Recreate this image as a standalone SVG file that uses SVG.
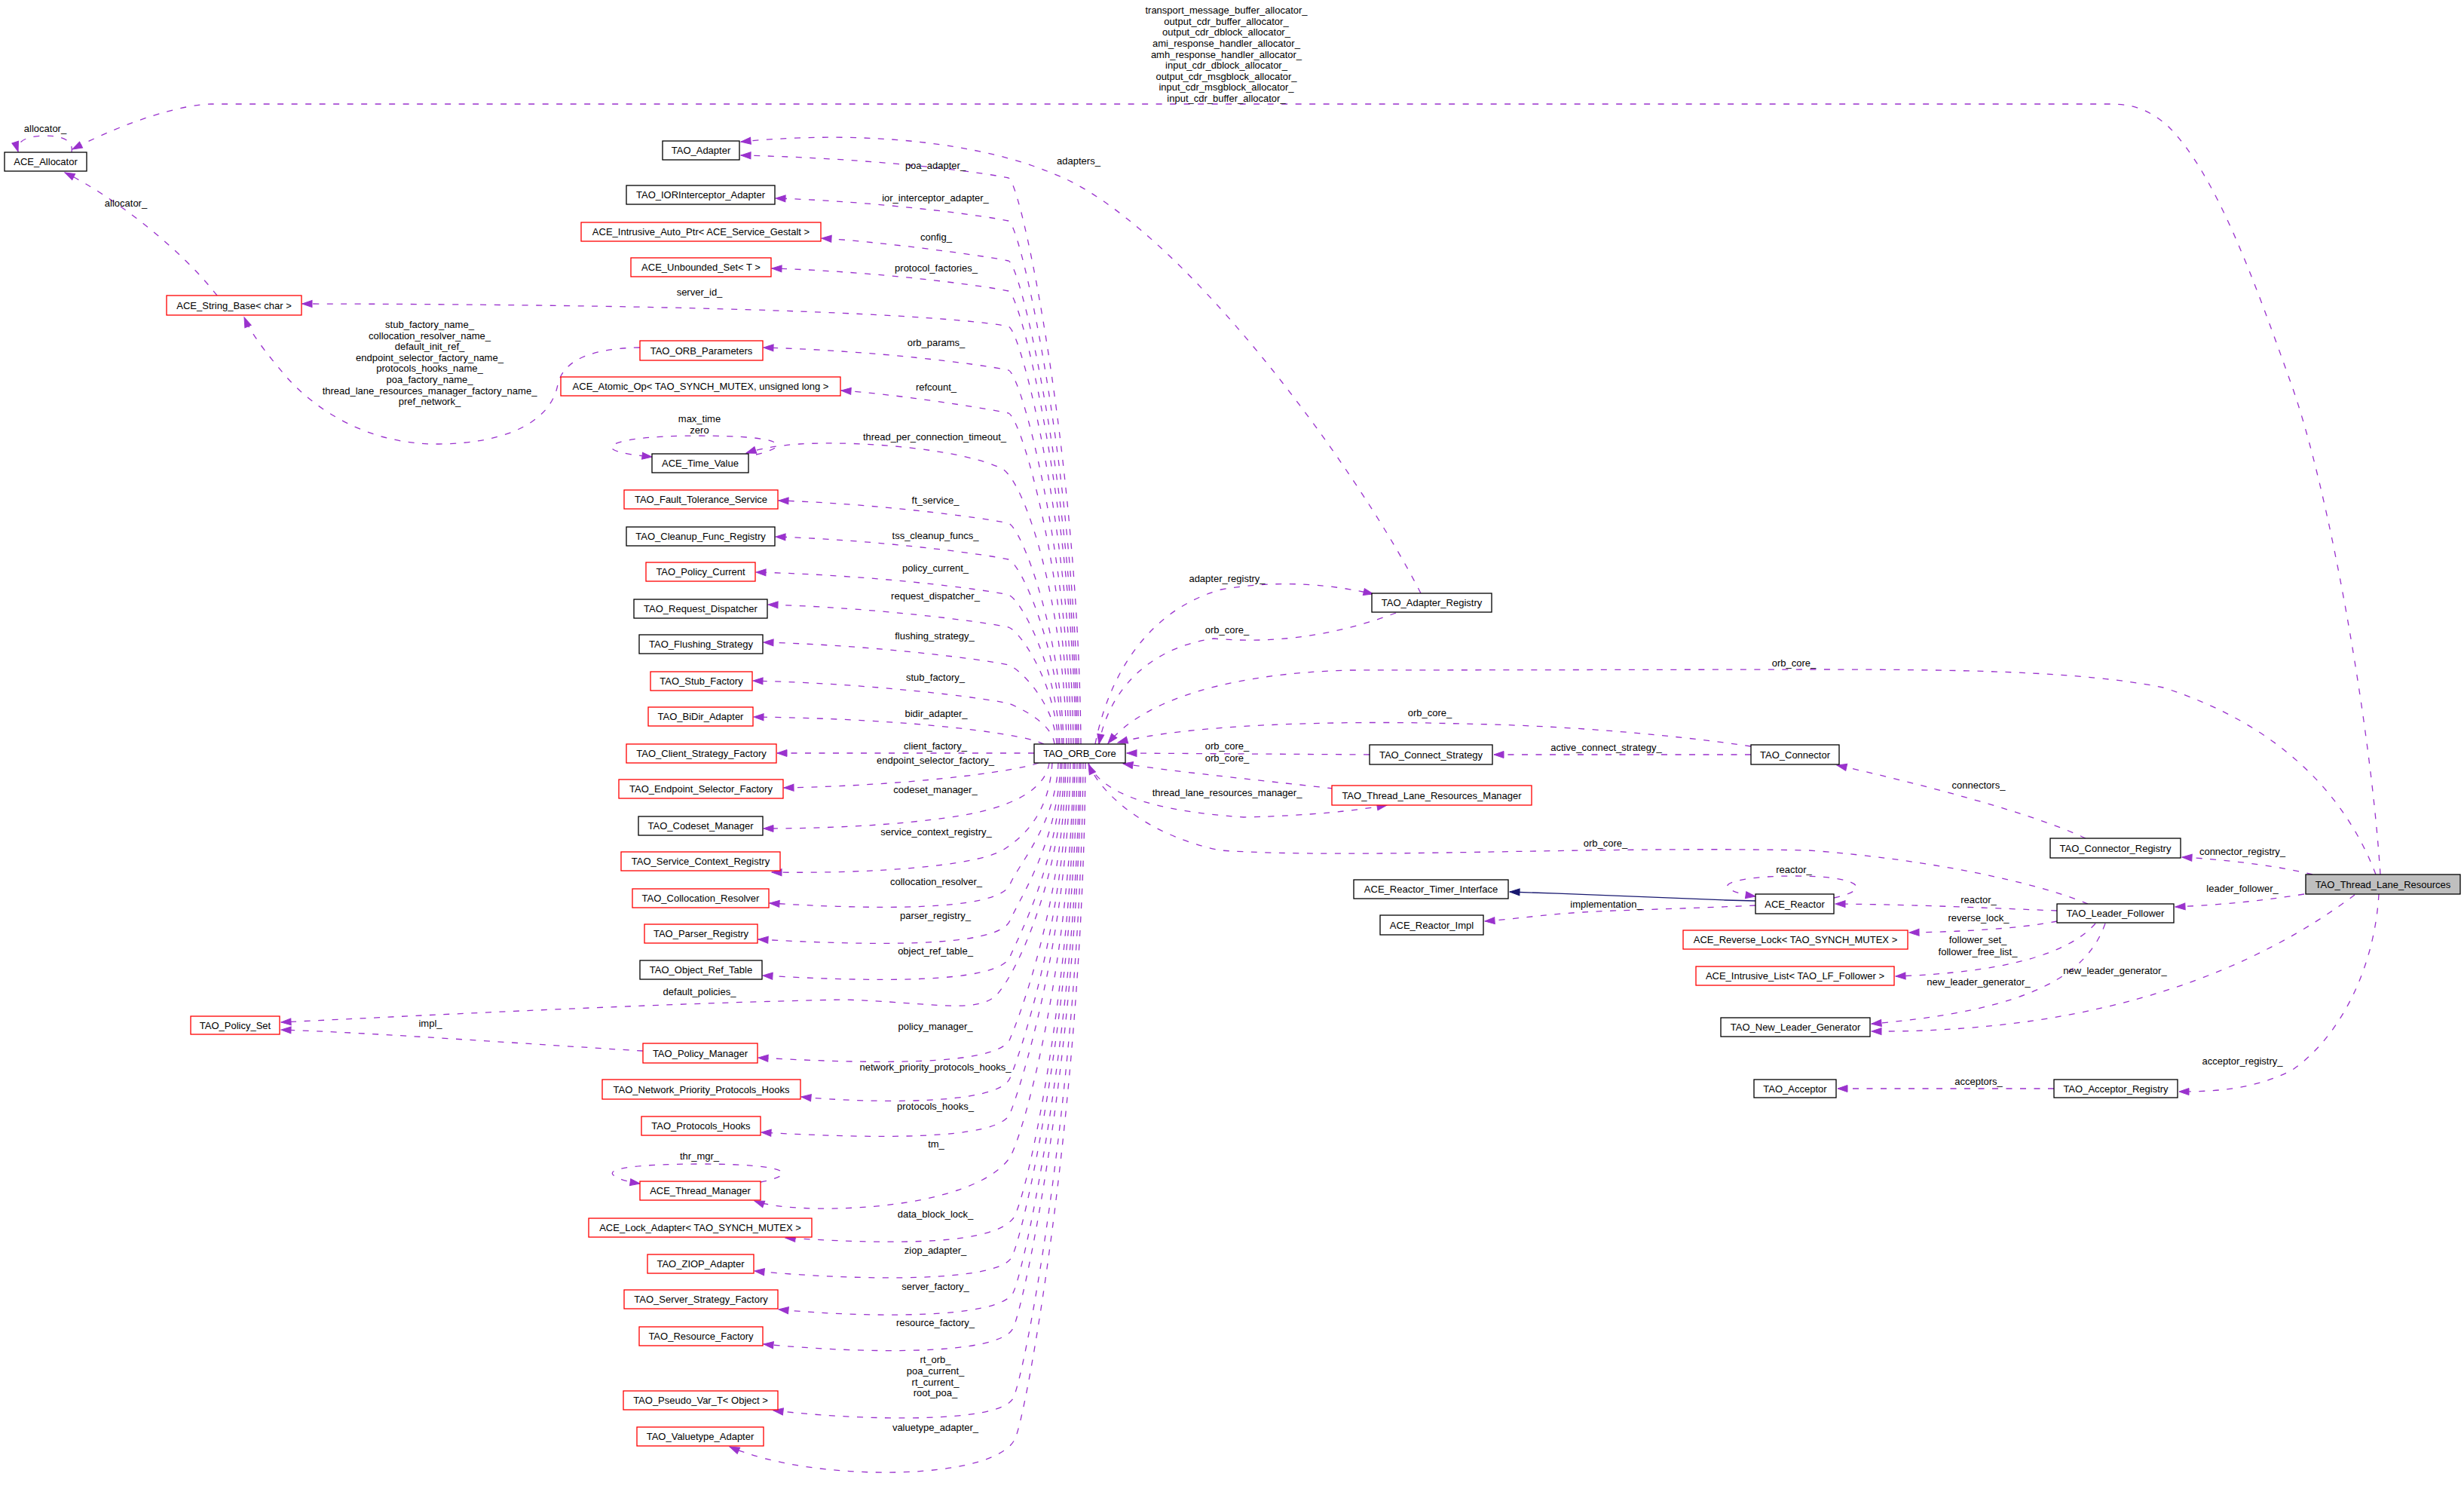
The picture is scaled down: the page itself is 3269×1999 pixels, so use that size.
<svg xmlns="http://www.w3.org/2000/svg" width="3269" height="1999" viewBox="0 0 3269 1999">
<defs>
<style>
.nb{fill:#fff;stroke:#000;stroke-width:1.3}
.nr{fill:#fff;stroke:#f00;stroke-width:1.3}
.ng{fill:#bfbfbf;stroke:#000;stroke-width:1.3}
text{font-family:'Liberation Sans',Arial,sans-serif;font-size:13px;fill:#000;text-anchor:middle}
.e{fill:none;stroke:#9a32cd;stroke-width:1.3;stroke-dasharray:8,10.5;marker-end:url(#ap)}
.i{fill:none;stroke:#191970;stroke-width:1.3;marker-end:url(#an)}
</style>
<marker id="ap" markerUnits="userSpaceOnUse" markerWidth="16" markerHeight="12" refX="13" refY="4.5" orient="auto" overflow="visible"><path d="M0,0 L13,4.5 L0,9 z" fill="#9a32cd" stroke="#9a32cd" stroke-width="1"/></marker>
<marker id="an" markerUnits="userSpaceOnUse" markerWidth="16" markerHeight="12" refX="13" refY="4.5" orient="auto" overflow="visible"><path d="M0,0 L13,4.5 L0,9 z" fill="#191970" stroke="#191970" stroke-width="1"/></marker>
</defs>
<rect width="3269" height="1999" fill="#fff"/>
<g id="connectors">
<path class="e" d="M3158,1160 C3145,960 3090,650 3040,510 C2990,370 2940,230 2875,166 C2850,145 2830,138 2800,138 L280,138 C240,139 170,160 96,198"/>
<path class="e" d="M95,202 C98,186 82,180 60,180 C36,180 20,188 24,201"/>
<path class="e" d="M288,392 C240,330 150,260 86,229"/>
<path class="e" d="M849,461 C790,462 748,475 740,510 C732,555 680,588 582,589 C490,590 420,545 380,500 C350,465 332,440 324,421"/>
<path class="e" d="M1885,787 C1800,620 1560,290 1394,229 C1300,190 1150,172 983,188"/>
<path class="e" d="M1434,987 C1431,612 1356,243 1338,236 C1300,228 1160,210 983,206"/>
<path class="e" d="M1431,987 C1428,640 1356,300 1338,293 C1300,285 1160,267 1029,263"/>
<path class="e" d="M1429,987 C1426,667 1356,353 1338,346 C1300,338 1160,320 1090,316"/>
<path class="e" d="M1427,987 C1424,687 1356,393 1338,386 C1300,378 1160,360 1024,356"/>
<path class="e" d="M1424,987 C1421,710 1356,440 1338,433 C1300,425 1100,404 401,403"/>
<path class="e" d="M1421,987 C1418,739 1356,498 1338,491 C1300,483 1160,465 1013,461"/>
<path class="e" d="M1418,987 C1415,768 1356,555 1338,548 C1300,540 1180,522 1116,518"/>
<path class="e" d="M1415,987 C1412,800 1360,640 1330,622 C1280,597 1150,584 1060,589 C1030,591 1005,596 990,601"/>
<path class="e" d="M1003,603 C1050,592 1045,578 926,578 C830,578 800,590 815,597 C825,602 845,604 865,606"/>
<path class="e" d="M1411,987 C1408,841 1356,701 1338,694 C1300,686 1160,668 1033,664"/>
<path class="e" d="M1409,987 C1406,865 1356,749 1338,742 C1300,734 1160,716 1029,712"/>
<path class="e" d="M1406,987 C1403,888 1356,796 1338,789 C1300,781 1160,763 1003,759"/>
<path class="e" d="M1404,987 C1401,910 1356,839 1338,832 C1300,824 1160,806 1019,802"/>
<path class="e" d="M1402,987 C1399,935 1356,889 1338,882 C1300,874 1160,856 1013,852"/>
<path class="e" d="M1399,987 C1396,960 1356,940 1338,933 C1300,925 1160,907 999,903"/>
<path class="e" d="M1385,987 C1370,980 1345,976 1320,972 C1250,962 1150,953 1000,951"/>
<path class="e" d="M1372,999 L1031,999"/>
<path class="e" d="M1378,1012 C1340,1025 1200,1042 1040,1045"/>
<path class="e" d="M1392,1012 C1388,1042 1355,1064 1300,1077 C1230,1092 1120,1099 1013,1099"/>
<path class="e" d="M1396,1012 C1393,1060 1375,1100 1330,1128 C1290,1150 1150,1159 1024,1157"/>
<path class="e" d="M1404,1012 C1401,1093 1352,1145 1340,1173 C1325,1210 1150,1206 1021,1198"/>
<path class="e" d="M1407,1012 C1404,1117 1352,1193 1340,1221 C1325,1258 1150,1254 1006,1246"/>
<path class="e" d="M1409,1012 C1406,1141 1352,1241 1340,1269 C1325,1306 1150,1302 1012,1294"/>
<path class="e" d="M1412,1012 C1409,1160 1350,1290 1322,1320 C1295,1345 1240,1330 1120,1326 C900,1330 600,1345 373,1356"/>
<path class="e" d="M853,1394 C700,1385 500,1370 373,1366"/>
<path class="e" d="M1414,1012 C1411,1195 1352,1350 1340,1378 C1325,1415 1150,1411 1006,1403"/>
<path class="e" d="M1417,1012 C1414,1221 1352,1402 1340,1430 C1325,1467 1150,1463 1063,1455"/>
<path class="e" d="M1420,1012 C1417,1245 1352,1449 1340,1477 C1325,1514 1150,1510 1010,1502"/>
<path class="e" d="M1424,1012 C1421,1270 1360,1500 1340,1535 C1310,1580 1200,1605 1080,1603 C1040,1602 1015,1598 1001,1593"/>
<path class="e" d="M1009,1568 C1060,1558 1050,1544 928,1544 C830,1544 805,1552 814,1559 C822,1565 835,1568 849,1570"/>
<path class="e" d="M1426,1012 C1423,1300 1365,1580 1345,1615 C1320,1650 1200,1652 1042,1642"/>
<path class="e" d="M1429,1012 C1426,1330 1358,1640 1342,1668 C1325,1700 1150,1700 1001,1686"/>
<path class="e" d="M1432,1012 C1429,1360 1358,1690 1344,1715 C1325,1750 1150,1748 1033,1737"/>
<path class="e" d="M1434,1012 C1431,1390 1358,1735 1344,1762 C1325,1798 1150,1796 1013,1783"/>
<path class="e" d="M1437,1012 C1434,1430 1360,1825 1344,1855 C1325,1888 1150,1885 1026,1871"/>
<path class="e" d="M1440,1012 C1437,1450 1365,1860 1348,1905 C1330,1965 1080,1968 968,1919"/>
<path class="e" d="M1453,987 C1470,900 1520,810 1620,782 C1700,768 1770,776 1822,788"/>
<path class="e" d="M1852,813 C1780,840 1700,855 1610,847 C1520,860 1470,920 1458,987"/>
<path class="e" d="M3152,1160 C3110,1050 3020,960 2870,912 C2760,890 2600,888 2400,888 L1790,889 C1640,893 1520,925 1470,986"/>
<path class="e" d="M2323,990 C2200,972 2060,962 1938,960 C1760,955 1570,962 1483,985"/>
<path class="e" d="M2323,1001 L1982,1001"/>
<path class="e" d="M1817,1001 L1495,999"/>
<path class="e" d="M1769,1046 C1700,1038 1560,1024 1490,1013"/>
<path class="e" d="M1444,1012 C1460,1050 1520,1075 1650,1084 C1740,1082 1800,1075 1840,1068"/>
<path class="e" d="M2770,1199 C2700,1170 2560,1140 2400,1128 C2100,1122 1800,1140 1619,1128 C1530,1110 1465,1060 1444,1014"/>
<path class="e" d="M2729,1208 C2650,1205 2550,1200 2435,1199"/>
<path class="e" d="M2729,1222 C2680,1232 2600,1236 2533,1237"/>
<path class="e" d="M2780,1225 C2745,1265 2660,1290 2515,1295"/>
<path class="e" d="M2793,1225 C2770,1290 2700,1340 2483,1358"/>
<path class="e" d="M3124,1187 C3000,1280 2800,1370 2483,1368"/>
<path class="e" d="M3068,1160 C3020,1148 2950,1140 2895,1137"/>
<path class="e" d="M3057,1186 C3000,1195 2950,1200 2886,1203"/>
<path class="e" d="M3156,1186 C3150,1290 3100,1380 3040,1420 C2990,1445 2940,1448 2891,1448"/>
<path class="e" d="M2725,1444 L2438,1444"/>
<path class="e" d="M2767,1112 C2700,1080 2550,1040 2437,1015"/>
<path class="e" d="M2433,1191 C2485,1180 2470,1162 2380,1162 C2310,1162 2285,1172 2293,1178 C2300,1184 2315,1187 2329,1189"/>
<path class="e" d="M2329,1201 C2250,1205 2150,1207 2100,1210 C2050,1213 2000,1220 1970,1222"/>
<path class="i" d="M2329,1195 L2289,1194 C2200,1191 2100,1186 2003,1183"/>
</g>
<g id="edge-labels">
<text x="1627" y="18">transport_message_buffer_allocator_</text>
<text x="1627" y="33">output_cdr_buffer_allocator_</text>
<text x="1627" y="47">output_cdr_dblock_allocator_</text>
<text x="1627" y="62">ami_response_handler_allocator_</text>
<text x="1627" y="77">amh_response_handler_allocator_</text>
<text x="1627" y="91">input_cdr_dblock_allocator_</text>
<text x="1627" y="106">output_cdr_msgblock_allocator_</text>
<text x="1627" y="120">input_cdr_msgblock_allocator_</text>
<text x="1627" y="135">input_cdr_buffer_allocator_</text>
<text x="60" y="175">allocator_</text>
<text x="167" y="274">allocator_</text>
<text x="1431" y="218">adapters_</text>
<text x="1241" y="224">poa_adapter_</text>
<text x="1241" y="267">ior_interceptor_adapter_</text>
<text x="1242" y="319">config_</text>
<text x="1242" y="360">protocol_factories_</text>
<text x="928" y="392">server_id_</text>
<text x="570" y="435">stub_factory_name_</text>
<text x="570" y="450">collocation_resolver_name_</text>
<text x="570" y="464">default_init_ref_</text>
<text x="570" y="479">endpoint_selector_factory_name_</text>
<text x="570" y="493">protocols_hooks_name_</text>
<text x="570" y="508">poa_factory_name_</text>
<text x="570" y="523">thread_lane_resources_manager_factory_name_</text>
<text x="570" y="537">pref_network_</text>
<text x="1242" y="459">orb_params_</text>
<text x="1242" y="518">refcount_</text>
<text x="928" y="560">max_time</text>
<text x="928" y="575">zero</text>
<text x="1240" y="584">thread_per_connection_timeout_</text>
<text x="1241" y="668">ft_service_</text>
<text x="1241" y="715">tss_cleanup_funcs_</text>
<text x="1241" y="758">policy_current_</text>
<text x="1241" y="795">request_dispatcher_</text>
<text x="1240" y="848">flushing_strategy_</text>
<text x="1241" y="903">stub_factory_</text>
<text x="1242" y="951">bidir_adapter_</text>
<text x="1241" y="994">client_factory_</text>
<text x="1241" y="1013">endpoint_selector_factory_</text>
<text x="1241" y="1052">codeset_manager_</text>
<text x="1242" y="1108">service_context_registry_</text>
<text x="1242" y="1174">collocation_resolver_</text>
<text x="1241" y="1219">parser_registry_</text>
<text x="1241" y="1266">object_ref_table_</text>
<text x="928" y="1320">default_policies_</text>
<text x="571" y="1362">impl_</text>
<text x="1241" y="1366">policy_manager_</text>
<text x="1241" y="1420">network_priority_protocols_hooks_</text>
<text x="1241" y="1472">protocols_hooks_</text>
<text x="1242" y="1522">tm_</text>
<text x="928" y="1538">thr_mgr_</text>
<text x="1241" y="1615">data_block_lock_</text>
<text x="1241" y="1663">ziop_adapter_</text>
<text x="1241" y="1711">server_factory_</text>
<text x="1241" y="1759">resource_factory_</text>
<text x="1241" y="1808">rt_orb_</text>
<text x="1241" y="1823">poa_current_</text>
<text x="1241" y="1838">rt_current_</text>
<text x="1241" y="1852">root_poa_</text>
<text x="1241" y="1898">valuetype_adapter_</text>
<text x="1628" y="772">adapter_registry_</text>
<text x="1628" y="840">orb_core_</text>
<text x="2380" y="884">orb_core_</text>
<text x="1897" y="950">orb_core_</text>
<text x="2131" y="996">active_connect_strategy_</text>
<text x="1628" y="994">orb_core_</text>
<text x="1628" y="1010">orb_core_</text>
<text x="1628" y="1056">thread_lane_resources_manager_</text>
<text x="2130" y="1123">orb_core_</text>
<text x="2131" y="1204">implementation_</text>
<text x="2625" y="1046">connectors_</text>
<text x="2975" y="1134">connector_registry_</text>
<text x="2380" y="1158">reactor_</text>
<text x="2975" y="1183">leader_follower_</text>
<text x="2625" y="1198">reactor_</text>
<text x="2625" y="1222">reverse_lock_</text>
<text x="2624" y="1251">follower_set_</text>
<text x="2624" y="1267">follower_free_list_</text>
<text x="2625" y="1307">new_leader_generator_</text>
<text x="2806" y="1292">new_leader_generator_</text>
<text x="2975" y="1412">acceptor_registry_</text>
<text x="2625" y="1439">acceptors_</text>
</g>
<g id="n_alloc"><rect class="nb" x="6" y="202" width="109" height="25"/><text x="60.5" y="219">ACE_Allocator</text></g>
<g id="n_sb"><rect class="nr" x="221" y="392" width="179" height="26"/><text x="310.5" y="409.5">ACE_String_Base&lt; char &gt;</text></g>
<g id="n_pset"><rect class="nr" x="253" y="1348" width="118" height="24"/><text x="312" y="1364.5">TAO_Policy_Set</text></g>
<g id="n_adapter"><rect class="nb" x="879" y="187" width="102" height="25"/><text x="930" y="204">TAO_Adapter</text></g>
<g id="n_ior"><rect class="nb" x="831" y="246" width="197" height="25"/><text x="929.5" y="263">TAO_IORInterceptor_Adapter</text></g>
<g id="n_iap"><rect class="nr" x="771" y="295" width="318" height="25"/><text x="930" y="312">ACE_Intrusive_Auto_Ptr&lt; ACE_Service_Gestalt &gt;</text></g>
<g id="n_uset"><rect class="nr" x="837" y="342" width="186" height="25"/><text x="930" y="359">ACE_Unbounded_Set&lt; T &gt;</text></g>
<g id="n_orbp"><rect class="nr" x="849" y="452" width="163" height="26"/><text x="930.5" y="469.5">TAO_ORB_Parameters</text></g>
<g id="n_atomic"><rect class="nr" x="744" y="500" width="371" height="25"/><text x="929.5" y="517">ACE_Atomic_Op&lt; TAO_SYNCH_MUTEX, unsigned long &gt;</text></g>
<g id="n_tv"><rect class="nb" x="865" y="602" width="128" height="25"/><text x="929" y="619">ACE_Time_Value</text></g>
<g id="n_ft"><rect class="nr" x="828" y="650" width="204" height="25"/><text x="930" y="667">TAO_Fault_Tolerance_Service</text></g>
<g id="n_cleanup"><rect class="nb" x="831" y="699" width="197" height="25"/><text x="929.5" y="716">TAO_Cleanup_Func_Registry</text></g>
<g id="n_pcur"><rect class="nr" x="857" y="746" width="145" height="25"/><text x="929.5" y="763">TAO_Policy_Current</text></g>
<g id="n_rd"><rect class="nb" x="841" y="795" width="177" height="25"/><text x="929.5" y="812">TAO_Request_Dispatcher</text></g>
<g id="n_flush"><rect class="nb" x="848" y="842" width="164" height="25"/><text x="930" y="859">TAO_Flushing_Strategy</text></g>
<g id="n_stub"><rect class="nr" x="863" y="891" width="135" height="25"/><text x="930.5" y="908">TAO_Stub_Factory</text></g>
<g id="n_bidir"><rect class="nr" x="860" y="938" width="139" height="25"/><text x="929.5" y="955">TAO_BiDir_Adapter</text></g>
<g id="n_csf"><rect class="nr" x="831" y="987" width="199" height="25"/><text x="930.5" y="1004">TAO_Client_Strategy_Factory</text></g>
<g id="n_esf"><rect class="nr" x="821" y="1034" width="218" height="25"/><text x="930" y="1051">TAO_Endpoint_Selector_Factory</text></g>
<g id="n_codeset"><rect class="nb" x="847" y="1083" width="165" height="25"/><text x="929.5" y="1100">TAO_Codeset_Manager</text></g>
<g id="n_scr"><rect class="nr" x="824" y="1130" width="211" height="25"/><text x="929.5" y="1147">TAO_Service_Context_Registry</text></g>
<g id="n_coll"><rect class="nr" x="839" y="1179" width="181" height="25"/><text x="929.5" y="1196">TAO_Collocation_Resolver</text></g>
<g id="n_parser"><rect class="nr" x="855" y="1226" width="150" height="25"/><text x="930" y="1243">TAO_Parser_Registry</text></g>
<g id="n_ort"><rect class="nb" x="849" y="1274" width="162" height="25"/><text x="930" y="1291">TAO_Object_Ref_Table</text></g>
<g id="n_pm"><rect class="nr" x="853" y="1384" width="152" height="26"/><text x="929" y="1401.5">TAO_Policy_Manager</text></g>
<g id="n_npph"><rect class="nr" x="799" y="1432" width="263" height="26"/><text x="930.5" y="1449.5">TAO_Network_Priority_Protocols_Hooks</text></g>
<g id="n_ph"><rect class="nr" x="851" y="1481" width="158" height="25"/><text x="930" y="1498">TAO_Protocols_Hooks</text></g>
<g id="n_tm"><rect class="nr" x="849" y="1567" width="160" height="25"/><text x="929" y="1584">ACE_Thread_Manager</text></g>
<g id="n_lock"><rect class="nr" x="781" y="1616" width="296" height="25"/><text x="929" y="1633">ACE_Lock_Adapter&lt; TAO_SYNCH_MUTEX &gt;</text></g>
<g id="n_ziop"><rect class="nr" x="859" y="1664" width="141" height="25"/><text x="929.5" y="1681">TAO_ZIOP_Adapter</text></g>
<g id="n_ssf"><rect class="nr" x="828" y="1711" width="204" height="25"/><text x="930" y="1728">TAO_Server_Strategy_Factory</text></g>
<g id="n_rf"><rect class="nr" x="848" y="1760" width="164" height="25"/><text x="930" y="1777">TAO_Resource_Factory</text></g>
<g id="n_pv"><rect class="nr" x="827" y="1845" width="205" height="25"/><text x="929.5" y="1862">TAO_Pseudo_Var_T&lt; Object &gt;</text></g>
<g id="n_vt"><rect class="nr" x="845" y="1893" width="168" height="25"/><text x="929" y="1910">TAO_Valuetype_Adapter</text></g>
<g id="n_orb"><rect class="nb" x="1372" y="987" width="121" height="25"/><text x="1432.5" y="1004">TAO_ORB_Core</text></g>
<g id="n_ar"><rect class="nb" x="1820" y="787" width="159" height="25"/><text x="1899.5" y="804">TAO_Adapter_Registry</text></g>
<g id="n_cs"><rect class="nb" x="1817" y="988" width="163" height="26"/><text x="1898.5" y="1005.5">TAO_Connect_Strategy</text></g>
<g id="n_tlrm"><rect class="nr" x="1767" y="1042" width="265" height="26"/><text x="1899.5" y="1059.5">TAO_Thread_Lane_Resources_Manager</text></g>
<g id="n_rti"><rect class="nb" x="1796" y="1167" width="205" height="25"/><text x="1898.5" y="1184">ACE_Reactor_Timer_Interface</text></g>
<g id="n_rimpl"><rect class="nb" x="1831" y="1214" width="137" height="26"/><text x="1899.5" y="1231.5">ACE_Reactor_Impl</text></g>
<g id="n_conn"><rect class="nb" x="2323" y="988" width="117" height="26"/><text x="2381.5" y="1005.5">TAO_Connector</text></g>
<g id="n_cr"><rect class="nb" x="2720" y="1112" width="173" height="26"/><text x="2806.5" y="1129.5">TAO_Connector_Registry</text></g>
<g id="n_tlr"><rect class="ng" x="3059" y="1160" width="205" height="26"/><text x="3161.5" y="1177.5">TAO_Thread_Lane_Resources</text></g>
<g id="n_reactor"><rect class="nb" x="2329" y="1186" width="104" height="26"/><text x="2381" y="1203.5">ACE_Reactor</text></g>
<g id="n_lf"><rect class="nb" x="2729" y="1199" width="155" height="25"/><text x="2806.5" y="1216">TAO_Leader_Follower</text></g>
<g id="n_rlock"><rect class="nr" x="2233" y="1234" width="298" height="25"/><text x="2382" y="1251">ACE_Reverse_Lock&lt; TAO_SYNCH_MUTEX &gt;</text></g>
<g id="n_ilist"><rect class="nr" x="2250" y="1282" width="263" height="25"/><text x="2381.5" y="1299">ACE_Intrusive_List&lt; TAO_LF_Follower &gt;</text></g>
<g id="n_nlg"><rect class="nb" x="2283" y="1350" width="198" height="25"/><text x="2382" y="1367">TAO_New_Leader_Generator</text></g>
<g id="n_acc"><rect class="nb" x="2327" y="1432" width="109" height="24"/><text x="2381.5" y="1448.5">TAO_Acceptor</text></g>
<g id="n_accr"><rect class="nb" x="2725" y="1432" width="164" height="24"/><text x="2807" y="1448.5">TAO_Acceptor_Registry</text></g>
</svg>
